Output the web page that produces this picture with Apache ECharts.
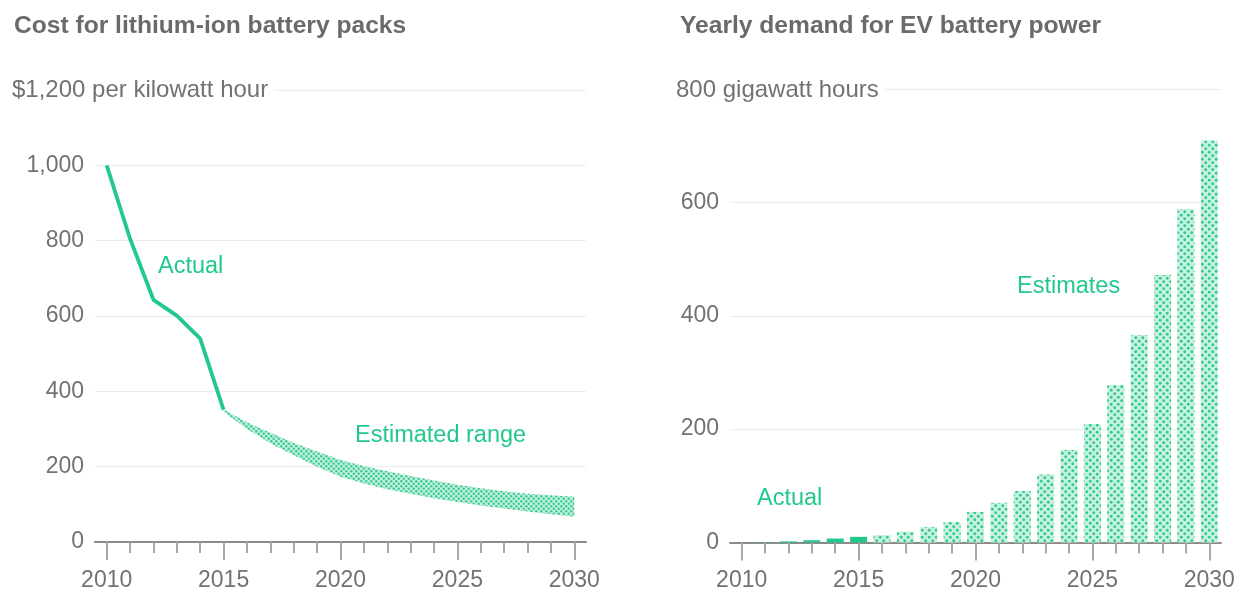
<!DOCTYPE html>
<html>
<head>
<meta charset="utf-8">
<script src="https://cdn.jsdelivr.net/npm/echarts@6/dist/echarts.min.js"></script>
<style>
  html, body { margin: 0; padding: 0; background: #fff; }
  #chart { width: 1241px; height: 590px; }
</style>
</head>
<body>
<div id="chart"></div>
<script>
// categories
var years = ['2010','2011','2012','2013','2014','2015','2016','2017','2018','2019','2020',
             '2021','2022','2023','2024','2025','2026','2027','2028','2029','2030'];

// left: cost per kWh
var costActual = [1000, 805, 643, 601, 540, 351];
var costLow  = [null, null, null, null, null, 346, 300, 262, 230, 200, 173, 155, 140, 128, 116, 106, 97, 89, 81, 74, 67];
var costHigh = [null, null, null, null, null, 352, 318, 290, 263, 240, 218, 202, 188, 175, 163, 152, 143, 135, 128, 124, 120];

// right: yearly demand, GWh
var demandActual = [0, 0.5, 2, 4, 7, 10];
var demandEstimate = [null, null, null, null, null, null, 13, 19, 27, 36, 54, 70, 91, 120, 163, 209, 278, 366, 472, 588, 709];

var titles = ['Cost for lithium-ion battery packs', 'Yearly demand for EV battery power'];
var unitLabels = ['$1,200 per kilowatt hour', '800 gigawatt hours'];

var GREEN = '#22c98b';
var FONT = '"Liberation Sans", Arial, sans-serif';
var GREY = '#727272';

function dots(size, r, bg, fg) {
  var c = document.createElement('canvas');
  c.width = size; c.height = size;
  var g = c.getContext('2d');
  g.fillStyle = bg;
  g.fillRect(0, 0, size, size);
  g.fillStyle = fg;
  [[0.25, 0.25], [0.75, 0.75]].forEach(function (p) {
    g.beginPath();
    g.arc(size * p[0], size * p[1], r, 0, Math.PI * 2);
    g.fill();
  });
  return c;
}
var bandPattern = { image: dots(5, 1.2, '#c4efdc', '#36cd93'), repeat: 'repeat' };
var barPattern = { image: dots(7, 1.45, '#c8f1df', '#2fcc8f'), repeat: 'repeat' };

var bandDiff = costHigh.map(function (v, i) { return v == null ? null : v - costLow[i]; });
var demandActualFull = years.map(function (y, i) { return i < demandActual.length ? demandActual[i] : null; });

function fifth(i) { return i % 5 === 0; }

function baseX(grid) {
  return {
    type: 'category', gridIndex: grid, position: 'bottom', data: years, boundaryGap: true,
    axisLine: { show: true, lineStyle: { color: '#8a8a8a', width: 2 } },
    axisTick: { show: true, alignWithLabel: true, interval: 0, length: 11, lineStyle: { color: '#a8a8a8', width: 2 } },
    axisLabel: { show: false },
    splitLine: { show: false }
  };
}
function majorX(grid) {
  return {
    type: 'category', gridIndex: grid, position: 'bottom', data: years, boundaryGap: true,
    axisLine: { show: false },
    axisTick: { show: true, alignWithLabel: true, interval: fifth, length: 18, lineStyle: { color: '#a8a8a8', width: 2 } },
    axisLabel: { show: true, interval: fifth, color: GREY, fontFamily: FONT, fontSize: 23, margin: 27 },
    splitLine: { show: false }
  };
}
function yAx(grid, max, interval, fmt) {
  return {
    type: 'value', gridIndex: grid, min: 0, max: max, interval: interval,
    axisLine: { show: false }, axisTick: { show: false },
    axisLabel: { color: GREY, fontFamily: FONT, fontSize: 23, margin: 11, formatter: fmt },
    splitLine: { lineStyle: { color: '#ececec', width: 1 } }
  };
}

var chart = echarts.init(document.getElementById('chart'), null, { renderer: 'canvas' });
chart.setOption({
  animation: false,
  backgroundColor: '#fff',
  grid: [
    { left: 95, width: 491, top: 90, bottom: 48, outerBoundsMode: 'none', containLabel: false },
    { left: 730, width: 491, top: 89, bottom: 47.5, outerBoundsMode: 'none', containLabel: false }
  ],
  xAxis: [baseX(0), majorX(0), baseX(1), majorX(1)],
  yAxis: [
    yAx(0, 1200, 200, function (v) { return v === 1200 ? '' : v.toLocaleString('en-US'); }),
    yAx(1, 800, 200, function (v) { return v === 800 ? '' : String(v); })
  ],
  series: [
    { name: 'low', type: 'line', xAxisIndex: 0, yAxisIndex: 0, stack: 'band', data: costLow,
      symbol: 'none', lineStyle: { opacity: 0 }, silent: true },
    { name: 'Estimated range', type: 'line', xAxisIndex: 0, yAxisIndex: 0, stack: 'band', data: bandDiff,
      symbol: 'none', lineStyle: { opacity: 0 }, areaStyle: { color: bandPattern, opacity: 1 } },
    { name: 'Actual', type: 'line', xAxisIndex: 0, yAxisIndex: 0, data: costActual, z: 5,
      symbol: 'none', lineStyle: { color: GREEN, width: 3.8 } },
    { name: 'Actual', type: 'bar', xAxisIndex: 2, yAxisIndex: 1, stack: 'd', data: demandActualFull,
      barWidth: 17, itemStyle: { color: GREEN } },
    { name: 'Estimates', type: 'bar', xAxisIndex: 2, yAxisIndex: 1, stack: 'd', data: demandEstimate,
      barWidth: 17, itemStyle: { color: barPattern } }
  ],
  graphic: [
    { type: 'text', left: 14, top: 14, z: 10,
      style: { text: titles[0], font: 'bold 24.6px ' + FONT, fill: '#6a6a6a' } },
    { type: 'text', left: 680, top: 14, z: 10,
      style: { text: titles[1], font: 'bold 24.6px ' + FONT, fill: '#6a6a6a' } },
    { type: 'text', left: 12, top: 78, z: 10,
      style: { text: unitLabels[0], font: '24px ' + FONT, fill: GREY, backgroundColor: '#fff', padding: [0, 6, 0, 0] } },
    { type: 'text', left: 676, top: 78, z: 10,
      style: { text: unitLabels[1], font: '24px ' + FONT, fill: GREY, backgroundColor: '#fff', padding: [0, 6, 0, 0] } },
    { type: 'text', left: 158, top: 255, z: 10,
      style: { text: 'Actual', font: '23.5px ' + FONT, fill: GREEN } },
    { type: 'text', left: 355, top: 424, z: 10,
      style: { text: 'Estimated range', font: '23.5px ' + FONT, fill: GREEN } },
    { type: 'text', left: 1017, top: 275, z: 10,
      style: { text: 'Estimates', font: '23.5px ' + FONT, fill: GREEN } },
    { type: 'text', left: 757, top: 487, z: 10,
      style: { text: 'Actual', font: '23.5px ' + FONT, fill: GREEN } }
  ]
});
</script>
</body>
</html>
